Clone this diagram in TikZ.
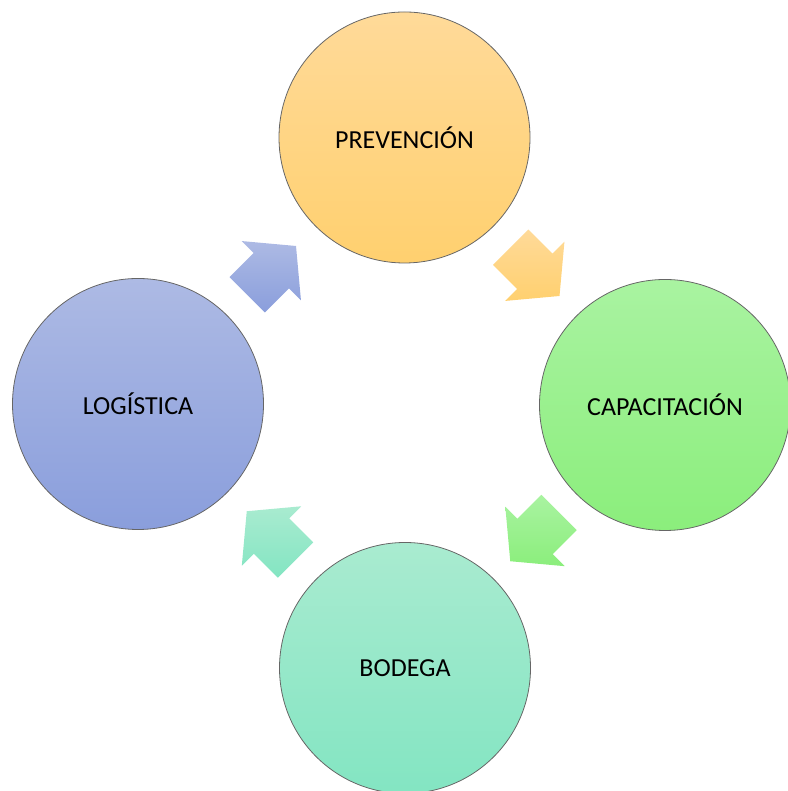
\documentclass[tikz,border=0pt]{standalone}
\usepackage{fontspec}
\setmainfont{Carlito}
\usepackage{tikz}
\usetikzlibrary{calc}

\definecolor{naranjaA}{HTML}{FFDA99}
\definecolor{naranjaB}{HTML}{FFD06F}
\definecolor{verdeA}{HTML}{A9F3A1}
\definecolor{verdeB}{HTML}{8BEE7C}
\definecolor{aguaA}{HTML}{A9EBD0}
\definecolor{aguaB}{HTML}{83E5C2}
\definecolor{azulA}{HTML}{ADBAE4}
\definecolor{azulB}{HTML}{8A9EDC}

\tikzset{
  etapa/.style={circle, minimum size=251pt, inner sep=0pt, draw=black!60, line width=0.8pt,
                font=\fontsize{26}{30}\selectfont},
}

\begin{document}
\begin{tikzpicture}[x=1pt, y=1pt]
\useasboundingbox (0,0) rectangle (787,791);

% draw stages
\node (prev)   [etapa, top color=naranjaA, bottom color=naranjaB] at (404.5,653.5) {PREVENCIÓN};
\node (capa)   [etapa, top color=verdeA, bottom color=verdeB] at (665,386) {CAPACITACIÓN};
\node (bodega) [etapa, top color=aguaA, bottom color=aguaB] at (405,123) {BODEGA};
\node (logis)  [etapa, top color=azulA, bottom color=azulB] at (138,387) {LOGÍSTICA};

% draw block arrows between stages
\foreach \a/\b/\ang/\ctop/\cbot in {prev/capa/-45/naranjaA/naranjaB, capa/bodega/-135/verdeA/verdeB,
                                    bodega/logis/135/aguaA/aguaB, logis/prev/45/azulA/azulB}{
  \coordinate (m) at ($(\a.center)!0.5!(\b.center)$);
  \path[shift={(m)}, rotate=\ang, top color=\ctop, bottom color=\cbot]
    (-34,-25) -- (0,-25) -- (0,-42) -- (35,0) -- (0,42) -- (0,25) -- (-34,25) -- cycle;
}

\end{tikzpicture}
\end{document}
